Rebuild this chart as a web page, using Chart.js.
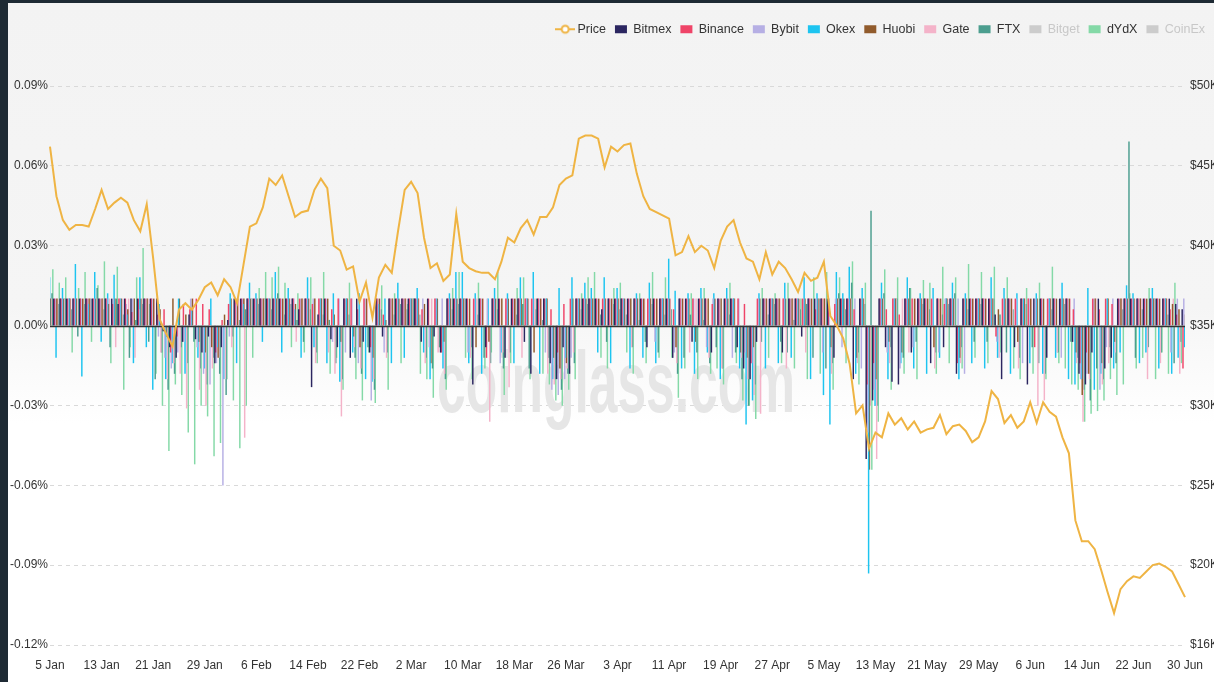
<!DOCTYPE html>
<html lang="en">
<head>
  <meta charset="UTF-8" />
  <title>Funding Rate - Price</title>
  <script src="https://cdn.jsdelivr.net/npm/chart.js"></script>
  <style>
    html, body { margin: 0; padding: 0; }
    body { width: 1214px; height: 682px; overflow: hidden; position: relative; background: #1e2a34; }
    .painel {
      position: absolute; left: 0; top: 0; width: 1214px; height: 682px;
      background: linear-gradient(#f3f3f3 0%, #f5f5f5 45%, #ffffff 62%);
    }
    .borda-esq { position: absolute; left: 0; top: 0; width: 8px; height: 682px; background: #1e2a34; }
    .borda-topo { position: absolute; left: 0; top: 0; width: 1214px; height: 3px; background: #1e2a34; }
  </style>
</head>
<body>

  <div class="painel">
    <canvas id="grafico" width="1214" height="682"></canvas>
  </div>
  <div class="borda-esq"></div>
  <div class="borda-topo"></div>

  <script>
    // daily values from 5 Jan to 30 Jun, rows of 8 days (one row per axis label)
    const price = [
      46200, 43100, 41600, 41000, 41300, 41300, 41200, 42300,
      43500, 42300, 42700, 43000, 42700, 41600, 40900, 42600,
      39200, 35400, 34500, 33700, 36000, 36400, 36000, 36600,
      37400, 37700, 36900, 37900, 37400, 36400, 38800, 41200,
      41400, 42400, 44200, 43800, 44400, 43100, 41800, 42100,
      42200, 43500, 44200, 43600, 40000, 39700, 38500, 38700,
      36500, 37700, 35500, 38000, 38800, 38300, 41000, 43500,
      44000, 43300, 40500, 38600, 38900, 37800, 38200, 42000,
      39000, 38600, 38400, 38300, 38300, 37900, 39000, 40500,
      40200, 41100, 41600, 40700, 41800, 41800, 42400, 43800,
      44200, 44400, 46700, 46900, 46900, 46700, 44900, 46200,
      45900, 46300, 46400, 44500, 43100, 42300, 42100, 41900,
      41700, 39400, 39600, 40600, 39600, 40000, 39700, 38600,
      40300, 41200, 41600, 40200, 39200, 39000, 37900, 39600,
      38200, 39000, 38600, 37900, 37100, 38300, 37800, 38000,
      39000, 35600, 35000, 34200, 32600, 29500, 30000, 27300,
      28300, 28000, 29500, 28800, 29200, 28500, 29000, 28300,
      28500, 28600, 29400, 28200, 28700, 28800, 28400, 27700,
      28000, 29000, 30900, 30400, 28900, 29400, 28600, 29000,
      30200, 28900, 30200, 29600, 29300, 28000, 27000, 22800,
      21500, 21500, 21000, 19700, 18300, 17000, 18500, 19000,
      19300, 19200, 19600, 20000, 20100, 19900, 19600, 18800,
      18000
    ];

    // funding rates in thousandths of a percent (10 = 0.01%)
    const bitmex = [
      10, 10, 10, 10, 10, 10, 10, 10,
      10, 10, 10, 8, 10, 10, 10, 10,
      10, 10, -2, -8, -12, -6, 4, -5,
      -10, -4, -14, -8, 2, 10, 10, 10,
      10, 10, 10, 10, 10, 10, 10, 6,
      10, -23, 4, 10, -5, -8, 10, -12,
      10, -6, -10, 10, -4, 10, 10, 10,
      10, 10, -6, 10, -4, -10, 10, 10,
      10, 10, -22, 10, -8, 10, 10, -12,
      10, 10, -6, -18, 10, 10, -14, -20,
      -8, -18, 10, 10, 10, 10, 6, 10,
      10, 10, 10, 10, 10, -8, 10, 10,
      10, -12, 10, 10, -6, 10, 10, -10,
      10, 10, 10, -8, -16, -20, -6, 10,
      10, 10, -10, 10, 10, -4, 10, 10,
      10, 10, -12, 10, 10, -20, 10, -50,
      -28, 10, -8, -21, -22, 10, -10, 10,
      10, -14, 10, -8, 10, -18, 10, 10,
      10, 10, 10, 4, -20, 10, -8, 10,
      -22, 10, 10, -12, 10, 10, 10, -6,
      -18, -22, -10, 10, -16, -12, 10, 10,
      10, 10, 10, 10, 10, 10, 10, 8,
      6
    ];
    const binance = [
      10, 10, 10, 10, 10, 10, 10, 10,
      10, 10, 8, 10, 10, 5, 10, 10,
      10, 4, 6, -10, -4, 8, 6, 10,
      8, 6, -10, 2, 8, 10, 10, 10,
      10, 10, 10, 10, 10, 10, 10, 10,
      10, 8, 10, 10, 6, 10, 10, 10,
      6, 10, -8, 10, 4, 10, 10, 10,
      10, 10, 6, 10, 10, -10, 10, 10,
      10, 10, 10, 10, -12, 10, 10, 10,
      10, 10, 10, 10, 10, 10, 6, -10,
      8, 10, 10, 10, 10, 10, 10, 10,
      10, 10, 10, 10, 10, 10, 10, 10,
      10, 6, 10, 10, 10, 10, 10, 8,
      10, 10, 10, 10, 8, -14, 10, 10,
      10, 10, 10, 10, 10, 10, 10, 6,
      10, 10, 8, 10, 10, 6, 10, -22,
      -14, 10, 6, 10, 4, 10, 10, 10,
      10, 10, 10, 8, 10, -14, 10, 10,
      10, 10, 10, -4, 10, 10, 10, 10,
      10, -8, 10, 10, 10, 10, 10, 6,
      -14, -10, 10, 6, 10, 8, 10, 10,
      10, 10, 10, 10, 10, 10, 6, 4,
      -16
    ];
    const bybit = [
      10, 10, 10, 10, 10, 10, 10, 10,
      10, 10, 10, 10, 8, 10, 6, 10,
      10, -4, -12, -16, -10, -6, 10, -8,
      -18, -22, -14, -60, -4, 10, 10, 10,
      10, 10, 10, 10, 10, 10, 10, 10,
      10, 10, 10, 10, -6, 10, -10, 10,
      -14, 10, -28, 10, -10, 10, 10, 10,
      10, 10, 10, -8, 10, 10, 10, 10,
      10, -10, 10, 10, 10, 10, -14, 10,
      10, 10, 10, 10, 10, -10, -24, -26,
      -20, -12, 10, 10, 10, 10, 10, 10,
      10, 10, 10, 10, 10, 10, -6, 10,
      10, -10, 10, 10, 10, 10, -8, 10,
      10, 10, -12, 10, -10, -14, 10, 10,
      10, 10, 10, 10, 10, 10, 10, 10,
      -10, 10, 10, -8, 10, 10, -16, -40,
      -24, 10, -10, 10, -16, 10, -8, 10,
      10, 10, -10, 10, 10, 10, -18, 10,
      10, 10, 10, -6, 10, 10, 10, -14,
      10, 10, 10, 10, 10, -12, 10, 10,
      -20, -18, 10, -24, -8, 10, 10, 10,
      10, 10, 10, 10, 10, 10, -10, 10,
      10
    ];
    const okex = [
      18, -12, 14, 10, 23, -19, 8, 20,
      -6, 12, 19, 10, 4, -14, 18, -8,
      -24, 8, -20, -14, 10, -18, 6, -12,
      -16, 10, -8, -20, 12, -14, 8, 16,
      12, -6, 10, 20, -10, 14, 6, -12,
      18, -8, 10, -14, 12, -21, 10, -10,
      12, -20, -21, 8, 10, -14, 16, -12,
      10, 14, -10, -20, 10, -16, 12, 20,
      20, -14, 12, -18, 10, 14, -10, 12,
      -14, 18, 10, 20, -18, 10, -20, 14,
      -12, 18, 10, 16, 14, -10, 18, -14,
      14, 10, -16, 12, -12, 16, -14, 10,
      25, 13, -16, 12, -18, 14, -10, 12,
      -20, 14, 10, -16, -37, -28, 12, -16,
      10, -14, 16, -12, 10, 18, -20, 12,
      -26, -37, 20, 12, 22, -18, 14, -93,
      -30, 16, -20, 10, -14, 18, -16, 12,
      -18, 14, -12, 10, 16, -20, 12, -14,
      10, -16, 18, -12, 14, -18, 12, 10,
      -14, 12, -18, 10, -12, 16, -20, -22,
      -20, 14, -24, -18, 10, -16, -10, 15,
      12, -14, -10, 14, -16, 10, -18, -12,
      -8
    ];
    const huobi = [
      10, 10, 10, 10, 10, 10, 10, 10,
      10, 8, 10, 10, 6, 10, 10, 10,
      10, 6, -4, 10, 10, 4, 10, -6,
      -10, -8, -12, 4, 10, 10, 10, 10,
      10, 10, 10, 10, 10, 10, 8, 10,
      10, 10, 10, 10, 4, -6, 10, -4,
      -8, 10, -12, 10, 2, 10, 10, 10,
      10, 10, 8, -14, 10, -6, 10, 10,
      10, 10, -8, 10, -6, 10, 10, 10,
      10, 10, 10, -10, 10, 10, -12, -16,
      -14, 10, 10, 10, 10, 10, 10, 10,
      10, 10, 10, 10, 10, 10, 10, 10,
      10, -8, 10, 10, -6, 10, 10, 10,
      10, 10, 10, -10, -12, -8, 10, 10,
      10, 10, 10, 10, 10, 10, 10, 10,
      10, -8, 10, 10, 10, -12, 10, -54,
      -20, 10, -6, 10, -10, 10, 10, 10,
      10, -8, 10, 10, 10, -12, 10, 10,
      10, 10, 10, 6, 10, 10, -6, 10,
      10, 10, 10, 10, 10, 10, 10, -10,
      -26, -18, 10, -14, 10, -6, 10, 10,
      10, 10, 10, 10, 10, 10, 8, 6,
      4
    ];
    const gate = [
      10, 10, 10, 10, 10, 10, 10, 10,
      10, 10, -8, 10, 10, -12, 10, 10,
      10, -10, -20, -14, -18, -31, 10, -24,
      -30, -16, -12, -20, -8, 10, -42, 10,
      10, 10, 10, 10, 10, 10, -6, 10,
      10, -14, 10, -10, -18, -34, 10, -8,
      -16, 10, -20, 10, -12, 10, 10, 10,
      10, 10, -14, 10, -10, -18, 10, 10,
      10, -12, 10, 10, -36, 10, -10, -23,
      10, -12, 10, 10, 10, -18, -22, -20,
      -16, -10, 10, 10, 10, 10, 10, 10,
      10, 10, -8, 10, 10, 10, 10, 10,
      10, -14, 10, -10, 10, 10, -12, 10,
      -16, 10, 10, -12, -20, -26, -33, 10,
      10, 10, -16, 10, 10, -10, 10, 10,
      10, -18, 10, 10, 10, -14, 10, -30,
      -50, 10, -14, 10, 10, -10, 10, 10,
      10, -16, 10, 10, 10, -14, 10, 10,
      10, 10, 10, -12, 10, 10, -16, 10,
      10, -30, -28, 10, -10, 10, 10, -14,
      -36, -20, 10, -22, -14, -10, 10, 10,
      10, 10, -20, 10, -14, 10, 10, -18,
      10
    ];
    const ftx = [
      12, 8, 10, 6, -4, 8, 10, 14,
      6, -8, 10, 4, -12, 2, 8, -6,
      -20, -10, -24, -18, -8, -14, -6, -16,
      -22, -12, -18, -26, -4, 2, 6, 10,
      8, 10, 6, 12, 4, 8, 2, -6,
      6, -10, 4, 2, -14, -20, 4, -12,
      -18, -8, -24, 6, -10, 4, 8, 6,
      10, 4, -12, -16, -8, -20, 6, 8,
      10, -8, 4, -12, -14, 6, -16, -10,
      4, 8, -16, 6, 2, -12, -20, -24,
      -18, -14, 6, 8, 10, 4, -6, 8,
      6, 4, -8, 2, -6, 8, -10, 4,
      6, -18, -12, 4, -10, 2, -14, -8,
      -16, 4, -10, -20, -30, -22, -6, 4,
      8, -6, -10, 2, 6, 8, -12, 10,
      -16, -14, 12, 6, 16, -10, 8, 43,
      -30, 12, -8, 10, -12, 14, -6, 8,
      6, -10, 4, 8, 12, -8, 6, -6,
      8, -6, 10, 4, -10, 6, -12, 8,
      -8, -14, -18, 6, -10, 8, -6, -12,
      -24, -28, -16, -20, -8, -14, 6, 69,
      -12, 6, -8, 10, -10, 4, -14, -6,
      -8
    ];
    const dydx = [
      21, 16, 18, -10, 14, 20, -6, 15,
      24, -14, 22, -24, -8, 18, 29, 8,
      -18, -30, -47, -22, -26, -40, -52, -30,
      -34, -49, -44, -20, -28, -46, -30, -12,
      14, 20, 18, 22, 16, -8, 12, -10,
      18, -14, 20, -18, -12, -24, 16, -20,
      -28, -10, -29, 15, -24, 12, -14, 8,
      10, -18, -20, -27, -8, -24, 14, 20,
      -12, -20, 16, -16, -10, 20, -26, -14,
      14, 18, -20, 10, -18, -22, -28, -30,
      -24, -20, 12, 18, 20, -12, -16, 14,
      16, -10, -18, 12, -14, 20, -12, 18,
      -12, -27, -16, 12, -20, 14, -18, -16,
      -22, 16, -14, -28, -30, -35, 14, -12,
      12, -14, 16, -16, 10, -20, 18, -18,
      20, -24, 18, -14, 24, -22, 16, -54,
      -36, 21, -24, 18, -18, 14, -20, 17,
      16, -18, 22, -14, 18, -16, 23, -12,
      20, -14, 22, -10, 18, -16, -20, 14,
      -18, 16, -20, 22, -14, -16, -22, -24,
      -36, -33, -32, -28, -20, -26, -22, 12,
      -16, -12, 14, -20, -10, -18, 16, -14,
      -12
    ];
    // Bitget and CoinEx are switched off in the legend
    const bitget = [];
    const coinex = [];

    const months = ['Jan', 'Feb', 'Mar', 'Apr', 'May', 'Jun', 'Jul', 'Aug', 'Sep', 'Oct', 'Nov', 'Dec'];
    const days = [];
    for (let i = 0; i < price.length; i++) {
      const d = new Date(2022, 0, 5 + i);
      days.push(d.getDate() + ' ' + months[d.getMonth()]);
    }
    const rightTicks = ['$16K', '$20K', '$25K', '$30K', '$35K', '$40K', '$45K', '$50K'];

    const exchanges = [
      { name: 'Bitmex', data: bitmex, color: '#2b2660' },
      { name: 'Binance', data: binance, color: '#ef4468' },
      { name: 'Bybit', data: bybit, color: '#b6afe4' },
      { name: 'Okex', data: okex, color: '#1dc4f0' },
      { name: 'Huobi', data: huobi, color: '#915b2c' },
      { name: 'Gate', data: gate, color: '#f4b3c9' },
      { name: 'FTX', data: ftx, color: '#4c9e8f' },
      { name: 'Bitget', data: bitget, color: '#cccccc', hidden: true },
      { name: 'dYdX', data: dydx, color: '#84d9a7' },
      { name: 'CoinEx', data: coinex, color: '#cccccc', hidden: true }
    ];

    // legend icon for the price line: short line with a hollow dot
    const priceIcon = document.createElement('canvas');
    priceIcon.width = 20;
    priceIcon.height = 12;
    const pc = priceIcon.getContext('2d');
    pc.strokeStyle = '#efb443';
    pc.lineWidth = 2;
    pc.beginPath(); pc.moveTo(0, 6); pc.lineTo(20, 6); pc.stroke();
    pc.fillStyle = '#ffffff';
    pc.beginPath(); pc.arc(10, 6, 3.5, 0, Math.PI * 2); pc.fill(); pc.stroke();

    const legendSpace = {
      id: 'legendSpace',
      beforeInit(chart) {
        const fit = chart.legend.fit;
        chart.legend.fit = function () {
          fit.call(this);
          this.height = 72;
        };
      }
    };

    const watermark = {
      id: 'watermark',
      beforeDatasetsDraw(chart) {
        const c = chart.ctx;
        c.save();
        c.font = "bold 88px 'Liberation Sans', sans-serif";
        const w = c.measureText('coinglass.com').width;
        c.translate(616, 412);
        c.scale(358 / w, 1);
        c.fillStyle = '#e6e6e6';
        c.textAlign = 'center';
        c.textBaseline = 'alphabetic';
        c.fillText('coinglass.com', 0, 0);
        c.restore();
      }
    };

    const zeroLine = {
      id: 'zeroLine',
      beforeDatasetDraw(chart, args) {
        if (args.index !== 0) return;
        const c = chart.ctx;
        const y0 = Math.round(chart.scales.y.getPixelForValue(0)) + 0.5;
        c.save();
        c.strokeStyle = '#333333';
        c.lineWidth = 1.3;
        c.beginPath();
        c.moveTo(chart.chartArea.left, y0);
        c.lineTo(chart.chartArea.right, y0);
        c.stroke();
        c.restore();
      }
    };

    Chart.defaults.font.family = "'Liberation Sans', Arial, sans-serif";
    Chart.defaults.font.size = 12;
    Chart.defaults.color = '#444';

    const datasets = [{
      type: 'line',
      label: 'Price',
      data: price,
      yAxisID: 'y1',
      borderColor: '#efb443',
      backgroundColor: '#efb443',
      borderWidth: 2,
      pointRadius: 0,
      tension: 0,
      order: 0,
      pointStyle: priceIcon
    }];
    exchanges.forEach(ex => {
      datasets.push({
        label: ex.name,
        data: ex.data.map(v => v / 1000),
        backgroundColor: ex.color,
        yAxisID: 'y',
        hidden: !!ex.hidden,
        order: 1,
        pointStyle: 'rect'
      });
    });

    const ctx = document.getElementById('grafico');
    new Chart(ctx, {
      type: 'bar',
      data: { labels: days, datasets: datasets },
      options: {
        responsive: false,
        animation: false,
        layout: { padding: { top: 14, left: 0, right: 0, bottom: 0 } },
        datasets: {
          bar: { categoryPercentage: 1, barPercentage: 1, borderWidth: 0 }
        },
        plugins: {
          tooltip: { enabled: false },
          legend: {
            position: 'top',
            align: 'end',
            labels: {
              usePointStyle: true,
              pointStyleWidth: 12,
              boxHeight: 8,
              padding: 9,
              color: '#333',
              font: { size: 12.5 },
              generateLabels(chart) {
                const items = Chart.defaults.plugins.legend.labels.generateLabels(chart);
                return items.map(it => {
                  if (it.hidden) {
                    it.fillStyle = '#cccccc';
                    it.strokeStyle = '#cccccc';
                    it.fontColor = '#c8c8c8';
                    it.hidden = false;
                  }
                  it.lineWidth = 0;
                  return it;
                });
              }
            }
          }
        },
        scales: {
          x: {
            offset: false,
            grid: { display: false },
            border: { display: false },
            ticks: {
              autoSkip: false,
              maxRotation: 0,
              padding: 5,
              color: '#333',
              callback: (v, i) => (i % 8 === 0 ? days[i] : null)
            },
            afterFit: s => { s.height = 37; }
          },
          y: {
            position: 'left',
            min: -0.12,
            max: 0.09,
            ticks: {
              stepSize: 0.03,
              padding: 2,
              color: '#333',
              callback: v => (Math.round(v * 100) / 100).toFixed(2) + '%'
            },
            grid: {
              drawTicks: false,
              color: c => (c.tick.value === 0 ? 'rgba(0,0,0,0)' : '#d9d9d9')
            },
            border: { display: false, dash: [4, 4] },
            afterFit: s => { s.width = 50; }
          },
          y1: {
            position: 'right',
            min: 15000,
            max: 50000,
            ticks: {
              stepSize: 5000,
              padding: 5,
              color: '#333',
              callback: (v, i) => rightTicks[i]
            },
            grid: { display: false, drawTicks: false },
            border: { display: false },
            afterFit: s => { s.width = 29; }
          }
        }
      },
      plugins: [legendSpace, watermark, zeroLine]
    });
  </script>

</body>
</html>
